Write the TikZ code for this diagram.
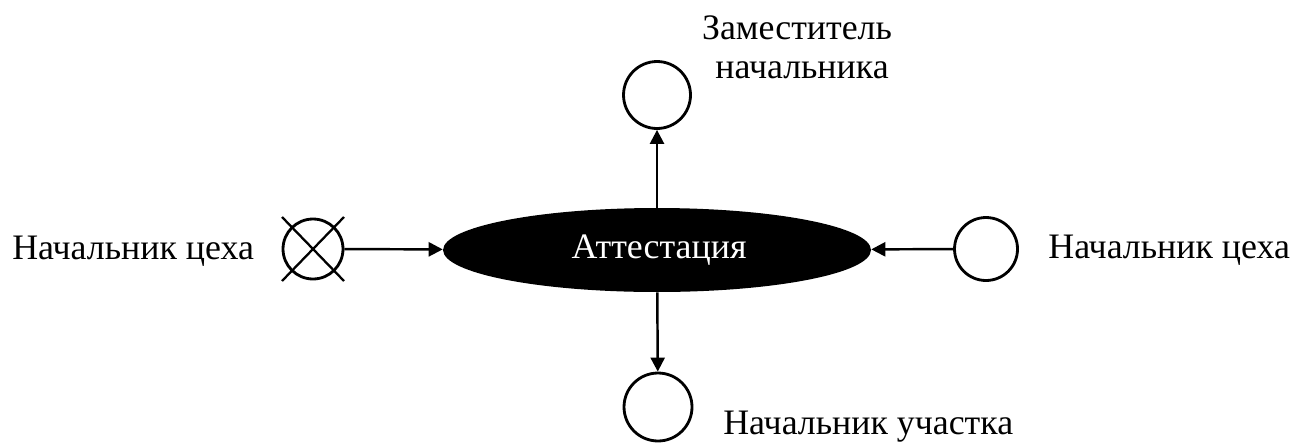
\documentclass[tikz,border=0pt]{standalone}
\usepackage{fontspec}
\setmainfont{Liberation Serif}
\usetikzlibrary{arrows.meta, shapes.geometric}

\tikzset{
  flow/.style={line width=1.4pt, -{Triangle[length=8pt, width=8pt]}},
  place/.style={circle, draw, line width=1.6pt, inner sep=0pt},
  caption/.style={inner sep=0pt, font=\fontsize{20.4}{24}\selectfont}
}

\begin{document}
\begin{tikzpicture}[x=0.02cm, y=-0.02cm]
        \useasboundingbox (0,0) rectangle (1293,443);

        % Process
        \node[ellipse, fill=black, minimum width=8.56cm, minimum height=1.68cm,
              inner sep=0pt] (att) at (657,250) {};
        \node[caption, text=white] (attText) at (659,250) {Аттестация};

        % Places
        \node[place, minimum size=1.2cm] (left) at (313,249) {};
        \node[place, minimum size=1.26cm] (right) at (986,249) {};
        \node[place, minimum size=1.34cm] (top) at (657,95) {};
        \node[place, minimum size=1.36cm] (bottom) at (658,407) {};

        % Cross on the left place
        \draw[line width=1.3pt] (left.center) ++(-31,-32) -- ++(62,64);
        \draw[line width=1.3pt] (left.center) ++(31,-32) -- ++(-62,64);

        % Arcs
        \draw[flow] (left) -- (att);
        \draw[flow] (right) -- (att);
        \draw[flow] (att) -- (top);
        \draw[flow] (att) -- (bottom);

        % Labels
        \node[caption, anchor=base west] (leftText) at (12,259) {Начальник цеха};
        \node[caption, anchor=base west] (rightText) at (1048,258) {Начальник цеха};
        \node[caption, anchor=base] (topText1) at (797,39) {Заместитель};
        \node[caption, anchor=base] (topText2) at (802,78) {начальника};
        \node[caption, anchor=base west] (bottomText) at (723,434) {Начальник участка};
\end{tikzpicture}
\end{document}
